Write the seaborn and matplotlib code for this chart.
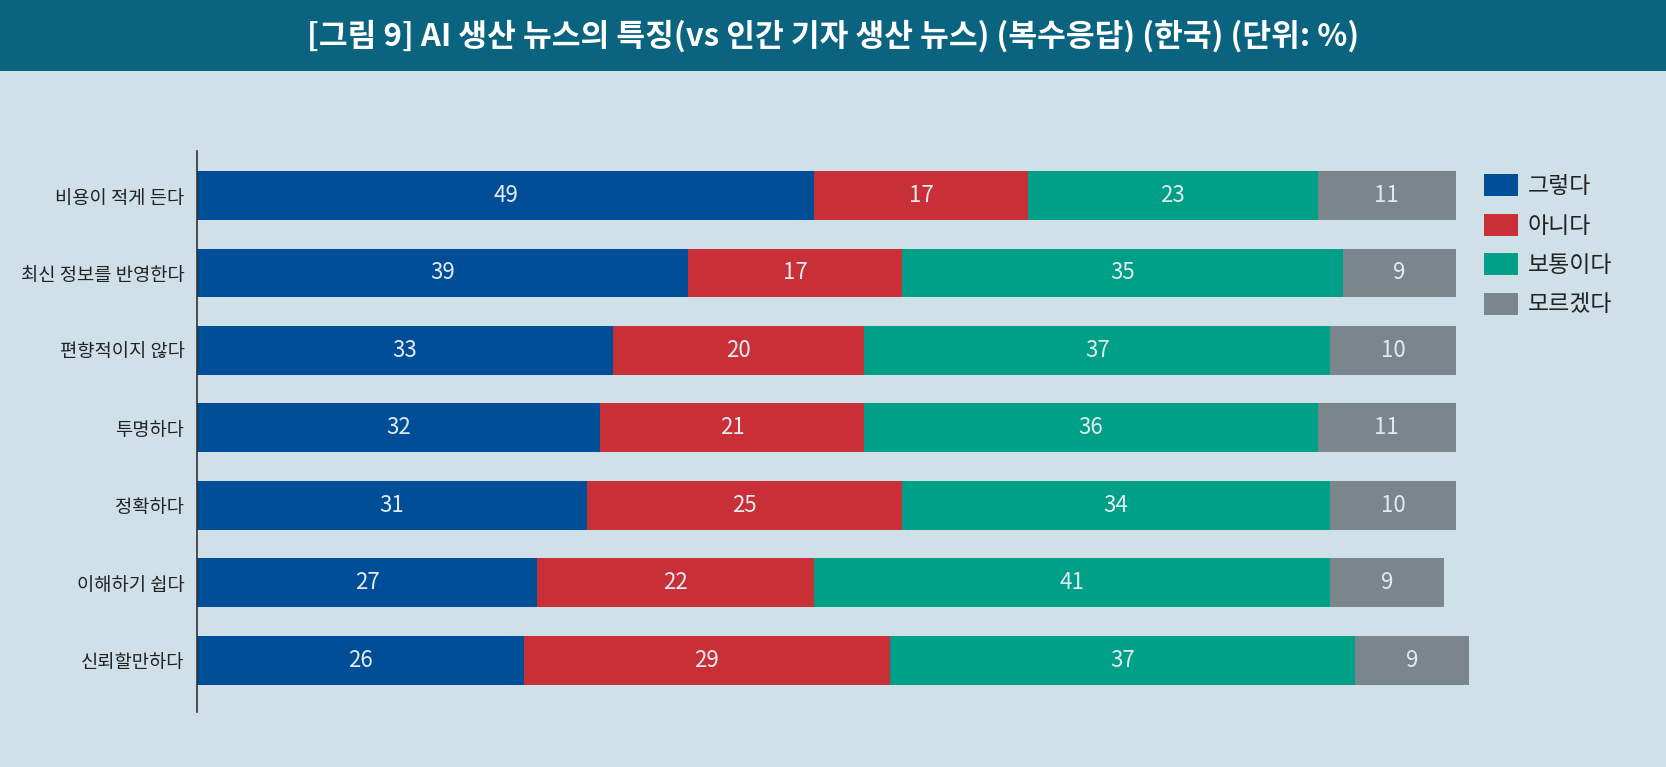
import numpy as np
import pandas as pd
import seaborn as sns
import matplotlib.pyplot as plt
from matplotlib.patches import Rectangle

# data
items = ['비용이 적게 든다', '최신 정보를 반영한다', '편향적이지 않다', '투명하다',
         '정확하다', '이해하기 쉽다', '신뢰할만하다']
yes = [49, 39, 33, 32, 31, 27, 26]
no = [17, 17, 20, 21, 25, 22, 29]
neutral = [23, 35, 37, 36, 34, 41, 37]
dunno = [11, 9, 10, 11, 10, 9, 9]

series = ['그렇다', '아니다', '보통이다', '모르겠다']
colors = ['#014E98', '#C92F37', '#00A088', '#7A858C']
title = '[그림 9] AI 생산 뉴스의 특징(vs 인간 기자 생산 뉴스) (복수응답) (한국) (단위: %)'

df = pd.DataFrame({'item': items, '그렇다': yes, '아니다': no,
                   '보통이다': neutral, '모르겠다': dunno})
cum = df[series].cumsum(axis=1)

bg = '#CFE0E8'
sns.set_style('white')
plt.rcParams['font.family'] = ['Noto Sans CJK KR', 'DejaVu Sans']

fig = plt.figure(figsize=(16.66, 7.67), dpi=100)
fig.patch.set_facecolor(bg)

# title band
fig.patches.append(Rectangle((0, 1 - 71 / 767), 1, 71 / 767, transform=fig.transFigure,
                             facecolor='#0A6480', edgecolor='none', zorder=0))
fig.text(0.5, 1 - 36 / 767, title, color='white', fontsize=22.5, fontweight='bold',
         ha='center', va='center')

ax = fig.add_axes([197 / 1666, 1 - 712 / 767, 1278 / 1666, 561 / 767])
ax.set_facecolor(bg)

# stacked bars: draw cumulative totals from the outside in
for s, c in reversed(list(zip(series, colors))):
    sns.barplot(x=cum[s], y=df['item'], orient='h', color=c, width=0.63,
                saturation=1, label=s, ax=ax, edgecolor='none')

for i in range(len(items)):
    left = 0
    for s in series:
        v = df[s].iloc[i]
        ax.text(left + v / 2, i, str(v), ha='center', va='center', color='#E2EAF0',
                fontsize=16, fontweight='light')
        left += v

ax.set_xlim(0, 101.5)
ax.set_ylim(6.67, -0.575)
ax.set_xlabel('')
ax.set_ylabel('')
ax.set_xticks([])
sns.despine(ax=ax, top=True, right=True, bottom=True)
ax.spines['left'].set_color('#333333')
ax.spines['left'].set_linewidth(1.2)
ax.tick_params(axis='y', length=0, pad=9, labelsize=13.5, labelcolor='#222222')

h, l = ax.get_legend_handles_labels()
ax.legend(h[::-1], l[::-1], loc='upper left', bbox_to_anchor=(1473 / 1666, 1 - 163 / 767),
          bbox_transform=fig.transFigure, frameon=False, fontsize=16.5, borderpad=0,
          handlelength=1.48, handleheight=1.1, handletextpad=0.4, labelspacing=0.68,
          labelcolor='#222222')

fig.savefig('out.png', dpi=100, facecolor=bg)
